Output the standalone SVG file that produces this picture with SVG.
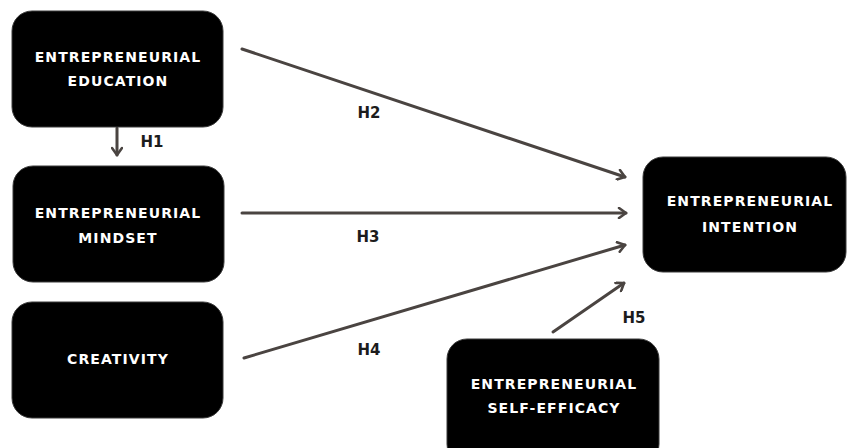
<svg xmlns="http://www.w3.org/2000/svg" width="847" height="448" viewBox="0 0 847 448">
  <style>
    .box { fill: #000000; stroke: #3a3a3a; stroke-width: 1; }
    .name { fill: #ffffff; font-family: "DejaVu Sans", "Liberation Sans", sans-serif; font-weight: bold; font-size: 14px; letter-spacing: 1.1px; text-anchor: middle; }
    .edge { fill: none; stroke: #4a4441; stroke-width: 3; stroke-linecap: round; }
    .tag { fill: #1c1c1c; font-family: "DejaVu Sans", "Liberation Sans", sans-serif; font-weight: bold; font-size: 15px; text-anchor: middle; }
  </style>
  <defs>
    <marker id="head" viewBox="0 0 12 12" refX="10" refY="6" markerWidth="12" markerHeight="12" markerUnits="userSpaceOnUse" orient="auto">
      <path d="M3,1 L10,6 L3,11" fill="none" stroke="#4a4441" stroke-width="2.6" stroke-linecap="round" stroke-linejoin="round"/>
    </marker>
  </defs>
  <rect width="847" height="448" fill="#ffffff"/>

  <g id="connectors">
    <line class="edge" x1="117" y1="128" x2="117" y2="155" marker-end="url(#head)"/>
    <line class="edge" x1="242" y1="49" x2="625" y2="177" marker-end="url(#head)"/>
    <line class="edge" x1="242" y1="213" x2="626" y2="213" marker-end="url(#head)"/>
    <line class="edge" x1="244" y1="358" x2="625" y2="245" marker-end="url(#head)"/>
    <line class="edge" x1="553" y1="332" x2="624" y2="283" marker-end="url(#head)"/>
    <text class="tag" x="152" y="147">H1</text>
    <text class="tag" x="369" y="118">H2</text>
    <text class="tag" x="368" y="242">H3</text>
    <text class="tag" x="369" y="355">H4</text>
    <text class="tag" x="634" y="323">H5</text>
  </g>

  <g id="education">
    <rect class="box" x="12" y="11" width="211" height="116" rx="20"/>
    <text class="name" x="118" y="62">ENTREPRENEURIAL</text>
    <text class="name" x="118" y="86">EDUCATION</text>
  </g>

  <g id="mindset">
    <rect class="box" x="13" y="166" width="211" height="116" rx="20"/>
    <text class="name" x="118" y="218">ENTREPRENEURIAL</text>
    <text class="name" x="118" y="243">MINDSET</text>
  </g>

  <g id="creativity">
    <rect class="box" x="12" y="302" width="211" height="116" rx="20"/>
    <text class="name" x="118" y="364">CREATIVITY</text>
  </g>

  <g id="intention">
    <rect class="box" x="643" y="157" width="203" height="115" rx="20"/>
    <text class="name" x="750" y="206">ENTREPRENEURIAL</text>
    <text class="name" x="750" y="232">INTENTION</text>
  </g>

  <g id="self-efficacy">
    <rect class="box" x="447" y="339" width="212" height="125" rx="20"/>
    <text class="name" x="554" y="389">ENTREPRENEURIAL</text>
    <text class="name" x="554" y="413">SELF-EFFICACY</text>
  </g>
</svg>
